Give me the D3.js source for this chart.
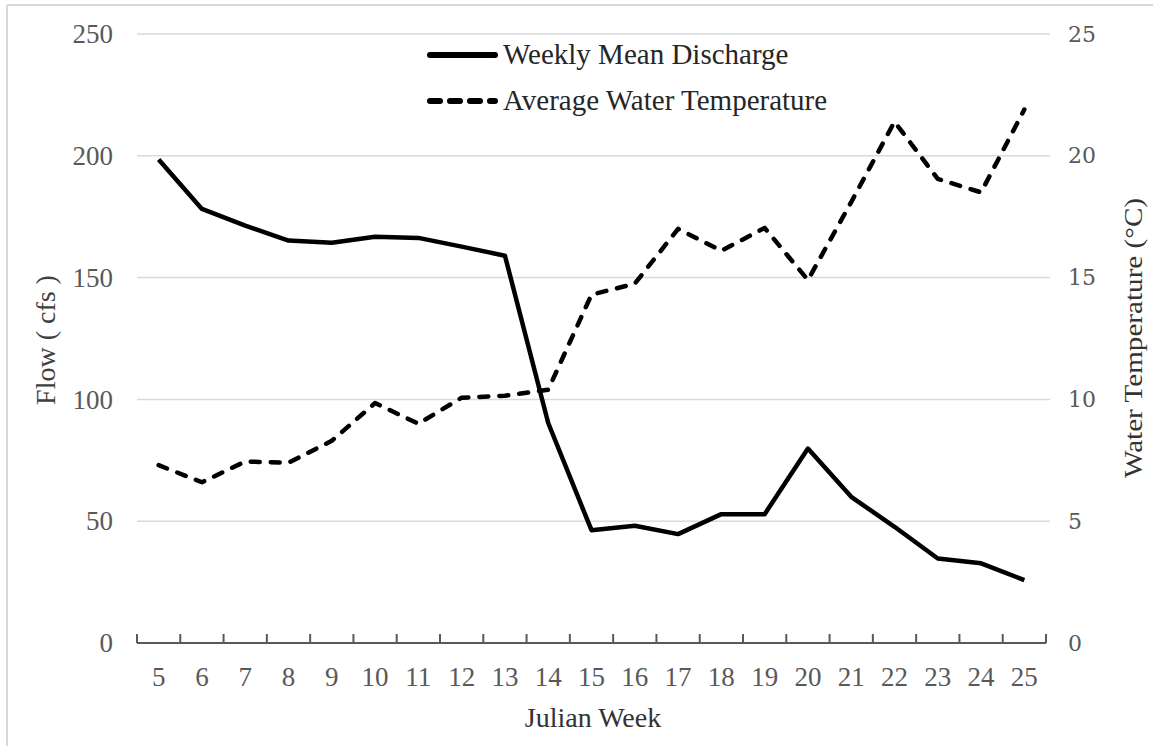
<!DOCTYPE html>
<html>
<head>
<meta charset="utf-8">
<script src="https://cdn.jsdelivr.net/npm/d3@7"></script>
<style>
  body { margin: 0; background: #fff; }
  svg { display: block; }
</style>
</head>
<body>
<div id="chart"></div>
<script>
"use strict";

// data
var weeks = [5, 6, 7, 8, 9, 10, 11, 12, 13, 14, 15, 16, 17, 18, 19, 20, 21, 22, 23, 24, 25];
var discharge = [198.5, 178.2, 171.3, 165.2, 164.3, 166.8, 166.3, 162.7, 159, 90.3, 46.3,
                 48.1, 44.7, 52.9, 52.9, 79.8, 60, 47.7, 34.7, 32.7, 25.8];
var temperature = [7.3, 6.6, 7.45, 7.4, 8.3, 9.85, 9.0, 10.07, 10.15, 10.4, 14.3,
                   14.75, 17.0, 16.1, 17.04, 14.9, 18.1, 21.4, 19.05, 18.5, 21.9];
var flowTicks = [0, 50, 100, 150, 200, 250];
var tempTicks = [0, 5, 10, 15, 20, 25];
var legendLabels = ["Weekly Mean Discharge", "Average Water Temperature"];

var width = 1153, height = 746;
var plotL = 137, plotR = 1046, plotT = 34, plotB = 643;

var svg = d3.select("#chart").append("svg")
    .attr("width", width)
    .attr("height", height);

// faint frame (only top and left edges show in the picture)
svg.append("line").attr("x1", 7).attr("x2", width).attr("y1", 5).attr("y2", 5)
    .attr("stroke", "#d9d9d9").attr("stroke-width", 2);
svg.append("line").attr("x1", 7).attr("x2", 7).attr("y1", 5).attr("y2", height)
    .attr("stroke", "#d9d9d9").attr("stroke-width", 2);

var x = d3.scaleBand().domain(weeks).range([plotL, plotR]).padding(0);
var yFlow = d3.scaleLinear().domain([0, 250]).range([plotB, plotT]);
var yTemp = d3.scaleLinear().domain([0, 25]).range([plotB, plotT]);

var serif = "'Liberation Serif', 'Times New Roman', serif";

// gridlines
svg.append("g")
    .selectAll("line").data(flowTicks.slice(1))
    .join("line")
      .attr("x1", plotL).attr("x2", plotR + 4)
      .attr("y1", d => yFlow(d)).attr("y2", d => yFlow(d))
      .attr("stroke", "#d9d9d9").attr("stroke-width", 1.5);

// left axis labels
var leftAxis = svg.append("g")
    .attr("transform", "translate(" + plotL + ",0)")
    .call(d3.axisLeft(yFlow).tickValues(flowTicks).tickSize(0).tickPadding(24));
leftAxis.select(".domain").remove();
leftAxis.selectAll("text")
    .style("font-family", serif).style("font-size", "27px").attr("fill", "#595959");

// right axis labels
var rightAxis = svg.append("g")
    .attr("transform", "translate(" + plotR + ",0)")
    .call(d3.axisRight(yTemp).tickValues(tempTicks).tickSize(0).tickPadding(22));
rightAxis.select(".domain").remove();
rightAxis.selectAll("text")
    .style("font-family", "'DejaVu Serif', serif").style("font-size", "22px").attr("fill", "#595959");

// x axis: labels centred in bands, ticks on band edges
var xAxis = svg.append("g")
    .attr("transform", "translate(0," + plotB + ")")
    .call(d3.axisBottom(x).tickSize(0).tickPadding(24));
xAxis.select(".domain").remove();
xAxis.selectAll("text")
    .style("font-family", serif).style("font-size", "27px").attr("fill", "#595959");

var edges = weeks.map(w => x(w)).concat([x.range()[1]]);
svg.append("line")
    .attr("x1", plotL).attr("x2", plotR)
    .attr("y1", plotB).attr("y2", plotB)
    .attr("stroke", "#595959").attr("stroke-width", 2);
svg.append("g")
    .selectAll("line").data(edges)
    .join("line")
      .attr("x1", d => d).attr("x2", d => d)
      .attr("y1", plotB).attr("y2", plotB - 9)
      .attr("stroke", "#595959").attr("stroke-width", 2);

// lines
var flowLine = d3.line()
    .x((d, i) => x(weeks[i]) + x.bandwidth() / 2)
    .y(d => yFlow(d));
var tempLine = d3.line()
    .x((d, i) => x(weeks[i]) + x.bandwidth() / 2)
    .y(d => yTemp(d));

svg.append("path")
    .datum(temperature)
    .attr("d", tempLine)
    .attr("fill", "none")
    .attr("stroke", "#000")
    .attr("stroke-width", 4.5)
    .attr("stroke-linecap", "round")
    .attr("stroke-linejoin", "round")
    .attr("stroke-dasharray", "9,11");

svg.append("path")
    .datum(discharge)
    .attr("d", flowLine)
    .attr("fill", "none")
    .attr("stroke", "#000")
    .attr("stroke-width", 4.5)
    .attr("stroke-linejoin", "round");

// legend
var legend = svg.append("g").attr("id", "legend");
legend.selectAll("line").data(legendLabels)
  .join("line")
    .attr("x1", 430).attr("x2", 495)
    .attr("y1", (d, i) => 55 + i * 46).attr("y2", (d, i) => 55 + i * 46)
    .attr("stroke", "#000").attr("stroke-width", 6)
    .attr("stroke-linecap", "round")
    .attr("stroke-dasharray", (d, i) => i === 1 ? "10,10" : null);
legend.selectAll("text").data(legendLabels)
  .join("text")
    .attr("x", 503)
    .attr("y", (d, i) => 64 + i * 46)
    .text(d => d)
    .style("font-family", serif).style("font-size", "29px")
    .attr("fill", "#262626");

// axis titles
svg.append("text")
    .attr("transform", "translate(55,340) rotate(-90)")
    .attr("text-anchor", "middle")
    .text("Flow ( cfs )")
    .style("font-family", serif).style("font-size", "28px").attr("fill", "#404040");

svg.append("text")
    .attr("transform", "translate(1142,338) rotate(-90)")
    .attr("text-anchor", "middle")
    .attr("textLength", 280)
    .attr("lengthAdjust", "spacingAndGlyphs")
    .text("Water Temperature (°C)")
    .style("font-family", serif).style("font-size", "26px").attr("fill", "#333");

svg.append("text")
    .attr("x", 593)
    .attr("y", 727)
    .attr("text-anchor", "middle")
    .text("Julian Week")
    .style("font-family", serif).style("font-size", "28px").attr("fill", "#333");
</script>
</body>
</html>
